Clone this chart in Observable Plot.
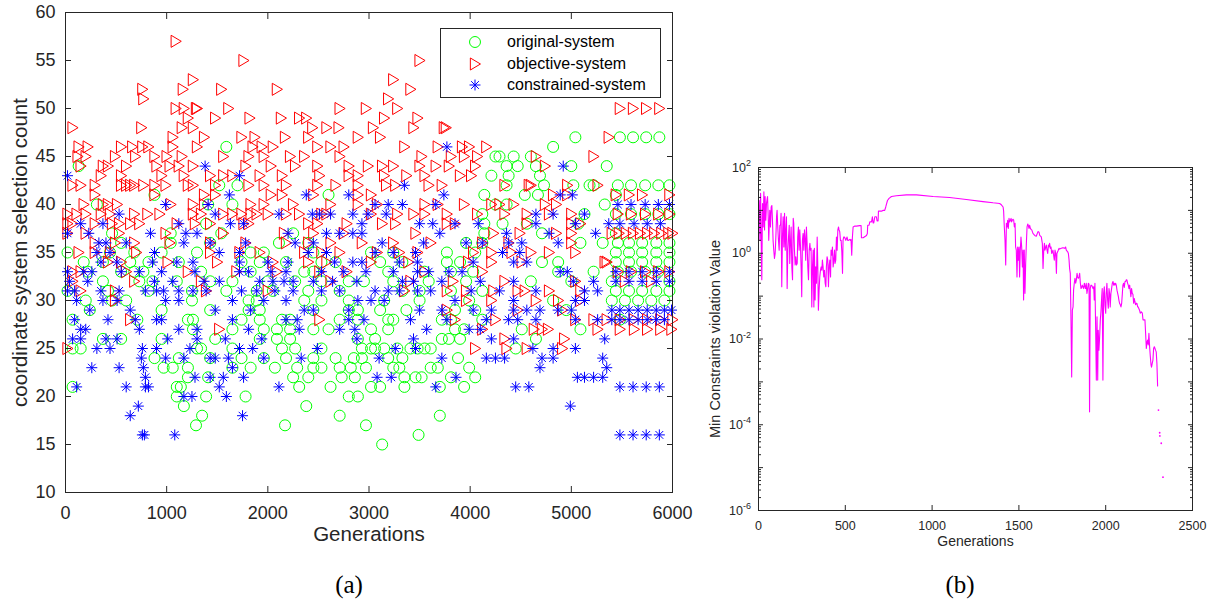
<!DOCTYPE html>
<html><head><meta charset="utf-8">
<script src="https://cdn.jsdelivr.net/npm/d3@7"></script>
<script src="https://cdn.jsdelivr.net/npm/@observablehq/plot@0.6"></script>
<style>
body{margin:0;background:#fff;width:1221px;height:605px;position:relative;overflow:hidden;font-family:"Liberation Sans",Arial,sans-serif}
#a{position:absolute;left:0;top:0}
#b{position:absolute;left:700px;top:140px}
.cap{position:absolute;font-family:"Liberation Serif",serif;font-size:25px;color:#000;transform:translate(-50%,-50%);white-space:nowrap}
#legend{position:absolute;left:440px;top:28px;width:219px;height:68px;border:1px solid #262626;background:#fff}
.lrow{position:absolute;left:0;height:20px;width:219px}
.lrow svg{position:absolute;left:24px;top:0}
.lrow span{position:absolute;left:66px;top:0;line-height:20px;font-size:16px;color:#000;white-space:nowrap}
</style></head><body>
<div id="a"></div><div id="b"></div>
<div id="legend"></div>
<div class="cap" style="left:349px;top:585px">(a)</div>
<div class="cap" style="left:960px;top:585px">(b)</div>
<script>
// ---------- Panel (a) data: [selection count, [generations...]] ----------
const originalRows = [
 [47,[5040,5480,5610,5740,5870]],
 [46,[1590,4820]],
 [45,[4250,4290,4430,4600]],
 [44,[130,4360,4470,4650,5000,5350]],
 [43,[4210,4380,4690]],
 [42,[1520,1700,4360,4730,5020,5180,5220,5460,5590,5730,5860,5970]],
 [41,[880,2600,4140,4540,4670,5440]],
 [40,[310,1410,1650,4250,4360,5330]],
 [39,[4120,5130,5440,5590,5730,5860,5970]],
 [38,[1390,4140,4320,4560,5070]],
 [37,[460,1040,1540,2250,4140,4710,5440]],
 [36,[550,1040,1430,2110,2400,3960,4120,5090,5310,5460,5570,5700,5840,5970]],
 [35,[20,440,680,950,1300,1830,1960,2450,3020,3240,3770,4050,5440,5570,5700,5840,5970]],
 [34,[180,370,640,820,1120,1740,1920,2180,2530,2670,3110,3330,3770,3900,4710,4870,5440,5570,5700,5840,5970]],
 [33,[220,550,680,770,1340,1830,2360,2450,3190,3550,3810,4030,4870,5220,5460,5590,5730,5860]],
 [32,[370,730,860,1100,1430,1650,2000,2270,2530,2800,2950,3240,3590,3960,4600,5000,5400,5970]],
 [31,[20,420,820,1250,1590,1890,2050,2400,2710,3330,3500,3810,4120,5440,5570,5700,5840,5970]],
 [30,[200,460,600,1250,1810,1890,2360,2530,2800,3150,3500,3990,4820,5400,5530,5660,5790,5920]],
 [29,[240,950,1430,1810,1920,2450,2800,2890,3110,3370,3850,4050,4950]],
 [28,[70,710,1210,1260,1740,1920,2140,2220,2710,2890,3190,3240,3720,3810,4120,5480]],
 [27,[1260,1650,1960,2090,2220,2450,2600,3020,3190,3850,3940,4510,5090]],
 [26,[370,550,950,1480,1920,2090,2220,2890,3060,3720,3790,3900,4650]],
 [25,[70,150,1300,1340,1650,2140,2270,2530,2930,3020,3060,3150,3280,3410,3480,3550,3610,4450]],
 [24,[880,1120,1430,1740,1960,2180,2450,2670,2850,2930,3190,3330,3880]],
 [23,[970,1060,1210,1650,1830,2070,2290,2450,2530,2710,2820,2970,3240,3300,3610,3680,3990]],
 [22,[1210,1410,2250,2400,2730,2860,3350,3460,3520,3810,4050]],
 [21,[70,1100,1140,2310,2620,3020,3110,3350,3700,3940]],
 [20,[1100,1390,1780,2800,2890]],
 [19,[1170,2380]],
 [18,[1350,2710,3700]],
 [17,[1290,2170,2970]],
 [16,[3490]],
 [15,[3130]]
];
const objectiveRows = [
 [57,[1090]],
 [55,[1760,3500]],
 [53,[1260,3240]],
 [52,[760,1160,1540,2090,3410]],
 [51,[770,3190]],
 [50,[1090,1170,1290,1300,1610,2710,2970,3280,5480,5610,5740,5870]],
 [49,[1210,1480,1820,2130,2310,2380,3150,3480]],
 [48,[70,750,1150,1260,2440,2580,2700,3040,3440,3740,3760]],
 [47,[1060,1370,1740,1870,2170,2400,2890,3110,5370]],
 [46,[130,220,550,660,760,820,1060,1300,1850,1940,2050,2490,2620,2750,3350,3680,3920,3990,4160]],
 [45,[120,200,490,690,880,1000,1150,1560,1810,1960,2220,2360,2710,3520,3810,3940,4070,4650,5220]],
 [44,[150,370,420,600,900,1030,1120,1260,1780,2030,2270,2490,2800,2990,3130,3240,3500,3660,3790,4050,4740]],
 [43,[350,550,950,1170,1430,1560,1650,1920,2140,2510,2800,2890,3150,3370,3550,3900,4010]],
 [42,[70,150,290,550,600,640,680,770,880,990,1210,1260,1480,1810,1960,2180,2490,2670,2890,3170,3260,3590,3720,4340,4580,4600,4960,5260]],
 [41,[290,880,1370,1480,2030,2140,2450,2890,3020,4820,4960,5440,5570,5700,5970]],
 [40,[180,370,420,510,1040,1260,1370,1830,1960,2250,2620,2890,3080,3550,3680,3940,4210,4290,4430,4740,4850]],
 [39,[20,110,200,350,440,680,810,930,1260,1340,1560,1650,1740,1830,1890,2000,2180,2310,2530,2580,3020,3280,3440,3550,3770,4070,4340,4560,4780,5000,5460,5590,5730,5860,5970]],
 [38,[20,70,290,460,530,640,730,1100,1280,1430,1760,1810,2400,2490,2780,3130,3260,3770,3850,4560,5000,5090]],
 [37,[20,200,530,990,1560,2160,2450,2750,3460,4230,4490,4850,5000,5400,5470,5540,5610,5680,5750,5820,5890,5960,6000]],
 [36,[290,490,680,1030,1430,1780,2180,2400,2620,2930,3240,3610,4120,4380,5000]],
 [35,[130,290,440,700,1430,1720,1920,2360,2530,2710,3080,3300,3480,4030,4210,4410,4600,4780,5040]],
 [34,[420,550,1010,1500,2050,2400,2580,3020,3390,3980,4210,4510,5330,5350]],
 [33,[70,150,600,1210,1690,2090,2510,2780,3550,4120,5460,5590,5730,5860,5970]],
 [32,[70,680,1340,2620,3410,3830,4340,5040,5530,5790]],
 [31,[150,490,1390,2000,3350,3770,3960,4230,4470,4540,4780,5090]],
 [30,[490,3960,4210,4650,4870,5090]],
 [29,[3770,4470,4910]],
 [28,[640,2510,3850,4250,5040,5220,5350,5480,5620,5750,5880,6000]],
 [27,[1520,4120,4630,4710,4770,5260,5480,5620,5750,5880,5990]],
 [26,[4340,4930]],
 [25,[20,4050,4360,4560,4910]]
];
const constrainedRows = [
 [46,[3770]],
 [44,[1380,4920]],
 [43,[20,1720]],
 [42,[3350]],
 [41,[1620,2380,2800,3740,4890,5010]],
 [40,[990,1410,3060,3190,3330,3660,5460,5590,5730,5860,5970]],
 [39,[530,1480,2110,2440,2510,2620,2840,2990,3170,4650,4820,5130]],
 [38,[150,370,1120,1630,1760,2930,3500,3630,3850,4080,4650,5040,5370,5480,5620,5750,5880]],
 [37,[20,230,840,1190,1300,2200,2580,2710,2840,2930,3700,4360,4780,5240]],
 [36,[330,400,600,1170,1430,1780,2270,2450,3130,3540,3960,4120,4380,4510,4870]],
 [35,[310,440,880,1520,1720,2400,2580,3060,3240,3460,4320,4490]],
 [34,[350,510,860,1100,1260,1720,2000,2200,2660,2840,2930,3300,3480,4030,4430,4560]],
 [33,[20,180,260,550,730,950,1280,1720,1810,2030,2180,2530,2750,2970,3240,3480,3590,3790,3920,4890,4960,5440,5570,5700,5840,5970]],
 [32,[40,220,880,1060,1370,1520,1920,2050,2160,2250,2450,2640,2880,3330,3440,3720,4100,4430,5020,5220,5440,5570,5700,5840,5970]],
 [31,[20,90,350,530,790,900,970,1120,1260,1390,1740,1890,2070,2250,2530,2710,3060,3190,3300,3480,3610,4010,4290,4650,5130,5260]],
 [30,[110,370,510,990,1120,1650,1960,2180,2890,3020,3150,3850,4430,5040,5130]],
 [29,[240,640,1480,1830,2360,2450,2800,3500,3720,4030,4210,4430,4560,4690,4870,5000,5400,5480,5570,5660,5750,5840,5920,5990]],
 [28,[90,420,690,900,950,1650,2180,2290,2800,2950,3410,3770,4160,4380,4470,4650,5040,5260,5400,5480,5570,5660,5750,5840,5920]],
 [27,[150,200,730,1120,1300,1810,2310,2710,2860,3570,3990,4100]],
 [26,[70,150,400,510,1010,1300,1580,1940,2880,3440,4210,4430,5330]],
 [25,[310,440,760,900,1230,1720,1850,2490,3260,3460,4620,4820,5040]],
 [24,[750,990,1170,1430,1480,1610,1960,2330,3100,3720,4160,4250,4340,4710,4820,5310]],
 [23,[260,530,770,1650,4690,5350]],
 [22,[790,1280,1430,1560,1760,3080,3220,3860,5060,5130,5220,5310]],
 [21,[110,600,790,820,1520,2110,3660,4450,4580,5480,5610,5740,5870]],
 [20,[1170,1250,1590]],
 [19,[720,4990]],
 [18,[640,1750]],
 [16,[760,780,1080,5480,5610,5740,5870]]
];
const seriesNames = ["original-system", "objective-system", "constrained-system"];
const xTicksA = [0, 1000, 2000, 3000, 4000, 5000, 6000];
const yTicksA = [10, 15, 20, 25, 30, 35, 40, 45, 50, 55, 60];

// ---------- Panel (b) data: [generation, min constraint violation] ----------
const violation = [
 [0,8.5],[4,17],[8,2.0],[12,25],[15,2.9],[19,0.24],[23,14.5],[27,4.1],[31,27],[35,3.5],[38,21],[42,5.9],[46,14.5],[52,21],[56,7.1],[59,2.0],[65,10],[69,4.1],[73,12],[77,13],[81,5.1],[84,2.0],[88,1.18],[92,0.76],[96,0.99],[100,2.4],[104,7.1],[107,10],[111,4.1],[115,2.0],[119,1.18],[123,4.5],[127,4.5],[130,8.5],[134,0.165],[138,2.4],[142,7.1],[146,1.4],[150,8.5],[154,1.18],[157,2.9],[161,7.1],[165,0.15],[169,1.18],[173,2.4],[177,4.5],[180,0.58],[184,1.7],[188,4.1],[192,0.48],[196,0.24],[200,6.5],[203,5.0],[207,1.18],[211,0.53],[215,0.83],[219,0.53],[223,0.58],[226,2.4],[230,4.1],[234,1.18],[238,3.5],[242,1.4],[246,0.40],[249,0.097],[253,2.0],[257,2.9],[261,1.18],[265,3.5],[269,2.0],[272,0.69],[276,4.1],[280,1.7],[284,0.48],[288,0.24],[292,1.18],[296,1.7],[299,1.18],[303,1.3],[307,0.056],[311,0.48],[315,1.18],[319,0.056],[322,1.3],[326,0.081],[330,0.48],[334,0.20],[338,2.4],[342,0.40],[345,0.047],[349,0.138],[353,0.28],[357,0.40],[361,0.48],[365,0.40],[368,0.69],[372,0.48],[376,0.28],[380,0.40],[384,0.20],[388,0.165],[391,0.48],[395,0.83],[399,0.69],[403,0.165],[407,0.53],[411,0.69],[415,0.28],[418,1.18],[422,0.90],[426,1.4],[430,0.48],[434,0.69],[438,1.18],[441,0.58],[445,0.69],[449,2.4],[453,1.18],[457,3.5],[461,4.1],[464,3.5],[468,3.2],[472,2.0],[476,2.0],[480,1.08],[484,0.34],[487,2.0],[491,2.4],[495,2.4],[499,2.2],[503,2.0],[507,2.2],[510,2.4],[514,2.0],[518,2.0],[526,2.1],[530,2.0],[533,2.1],[537,0.9],[541,2.4],[545,4.1],[555,4.3],[564,4.3],[583,4.4],[591,4.4],[593,2.3],[603,2.3],[622,2.6],[627,2.9],[629,4.5],[637,4.5],[641,5.4],[651,5.4],[656,7.1],[660,5.1],[664,5.1],[670,7.1],[679,7.1],[683,5.7],[689,5.7],[691,9.6],[708,9.6],[718,10],[727,10],[733,12],[743,17],[752,19],[766,21],[794,22],[852,23],[910,23],[1006,21],[1101,20],[1197,18],[1293,16],[1351,15],[1389,14.5],[1399,13.5],[1409,12],[1412,9.6],[1416,4.1],[1420,2.0],[1424,0.53],[1428,5.0],[1432,4.1],[1435,5.9],[1439,3.8],[1443,6.5],[1447,5.4],[1451,5.9],[1455,6.5],[1458,5.4],[1462,5.9],[1466,6.2],[1470,5.9],[1474,4.1],[1478,5.0],[1481,1.4],[1485,1.18],[1489,0.28],[1493,1.4],[1497,0.69],[1501,1.4],[1504,0.28],[1508,1.18],[1512,2.4],[1516,1.4],[1520,0.48],[1524,1.18],[1527,0.081],[1531,1.18],[1535,0.116],[1539,0.58],[1543,1.7],[1547,4.1],[1551,4.8],[1554,4.5],[1558,3.8],[1562,4.5],[1566,3.8],[1570,3.6],[1574,3.5],[1581,2.9],[1591,2.6],[1600,2.5],[1610,3.2],[1616,3.1],[1620,2.6],[1629,2.4],[1635,1.7],[1639,0.44],[1643,1.18],[1647,1.7],[1650,1.18],[1658,1.55],[1662,1.18],[1666,0.99],[1670,1.55],[1673,1.4],[1677,1.7],[1681,1.3],[1685,1.4],[1689,0.99],[1696,1.18],[1700,0.90],[1704,0.69],[1708,1.18],[1712,0.99],[1716,0.34],[1719,0.99],[1723,1.08],[1727,1.18],[1731,1.3],[1735,1.25],[1744,1.3],[1754,1.35],[1764,1.3],[1769,1.4],[1773,1.18],[1781,1.08],[1785,0.99],[1789,0.69],[1792,0.44],[1796,0.34],[1800,0.028],[1804,0.0013],[1808,0.047],[1812,0.056],[1815,0.138],[1819,0.20],[1823,0.26],[1827,0.20],[1831,0.24],[1835,0.34],[1838,0.28],[1842,0.26],[1846,0.28],[1850,0.34],[1854,0.20],[1858,0.15],[1862,0.16],[1865,0.18],[1869,0.165],[1873,0.15],[1877,0.20],[1881,0.165],[1884,0.15],[1888,0.20],[1892,0.116],[1896,0.15],[1900,0.20],[1904,0.19],[1907,0.0002],[1911,0.15],[1915,0.18],[1919,0.18],[1923,0.165],[1927,0.15],[1931,0.165],[1934,0.081],[1938,0.20],[1942,0.019],[1946,0.0011],[1950,0.033],[1954,0.0011],[1957,0.016],[1961,0.0055],[1965,0.011],[1969,0.028],[1973,0.045],[1977,0.097],[1980,0.15],[1984,0.0011],[1988,0.116],[1992,0.165],[1996,0.06],[2000,0.04],[2003,0.116],[2007,0.20],[2011,0.081],[2015,0.052],[2019,0.15],[2023,0.11],[2026,0.056],[2030,0.116],[2034,0.15],[2038,0.20],[2042,0.22],[2046,0.18],[2049,0.20],[2053,0.18],[2057,0.20],[2061,0.18],[2065,0.138],[2069,0.116],[2073,0.097],[2076,0.081],[2080,0.068],[2084,0.063],[2088,0.056],[2092,0.068],[2096,0.116],[2099,0.18],[2103,0.20],[2107,0.16],[2111,0.22],[2115,0.22],[2119,0.24],[2122,0.24],[2126,0.20],[2130,0.18],[2134,0.15],[2138,0.18],[2142,0.13],[2145,0.097],[2149,0.15],[2153,0.116],[2157,0.11],[2161,0.068],[2165,0.088],[2168,0.075],[2172,0.063],[2176,0.068],[2180,0.068],[2184,0.056],[2187,0.056],[2195,0.047],[2199,0.040],[2205,0.043],[2211,0.040],[2215,0.028],[2222,0.028],[2226,0.028],[2230,0.0135],[2234,0.006],[2238,0.0085],[2241,0.0094],[2245,0.0073],[2249,0.0135],[2253,0.0066],[2257,0.0039],[2261,0.0025],[2264,0.0022],[2268,0.0027],[2272,0.0032],[2276,0.006],[2280,0.0066],[2284,0.006],[2287,0.0055],[2291,0.005],[2295,0.0027],[2299,0.0008]
];
const violationSpecks = [[2304,2.2e-4],[2311,6.5e-5],[2312,5.5e-5],[2320,3.7e-5],[2330,6e-6]];
const xTicksB = [0, 500, 1000, 1500, 2000, 2500];
const decadeExponents = [-6, -5, -4, -3, -2, -1, 0, 1, 2];
const labelledExponents = [-6, -4, -2, 0, 2];

// ---------- helpers ----------
const flatten = rows => rows.flatMap(([count, gens]) => gens.map(gen => ({gen, count})));
const asterisk8 = {draw(ctx, size) {
  const r = Math.sqrt(size / Math.PI), d = r * 0.7071;
  ctx.moveTo(-r, 0); ctx.lineTo(r, 0); ctx.moveTo(0, -r); ctx.lineTo(0, r);
  ctx.moveTo(-d, -d); ctx.lineTo(d, d); ctx.moveTo(-d, d); ctx.lineTo(d, -d);
}};
const triangleRight = {draw(ctx, size) {
  const r = Math.sqrt(size / Math.PI);
  ctx.moveTo(-0.85 * r, -1.1 * r); ctx.lineTo(1.0 * r, 0); ctx.lineTo(-0.85 * r, 1.1 * r); ctx.closePath();
}};
const ink = "#262626";
const font = "Liberation Sans, Arial, Helvetica, sans-serif";
const plain = d => String(d);

// ---------- Panel (a) ----------
const plotA = Plot.plot({
  width: 700, height: 560,
  marginTop: 12, marginLeft: 65, marginRight: 28, marginBottom: 68,
  style: {fontFamily: font, fontSize: "18px", color: ink, background: "transparent"},
  x: {domain: [0, 6000]},
  y: {domain: [10, 60]},
  marks: [
    Plot.dot(flatten(originalRows), {x: "gen", y: "count", symbol: "circle", r: 5.5, stroke: "#00ff00", fill: "none", strokeWidth: 1}),
    Plot.dot(flatten(objectiveRows), {x: "gen", y: "count", symbol: triangleRight, r: 5.5, stroke: "#ff0000", fill: "none", strokeWidth: 1}),
    Plot.dot(flatten(constrainedRows), {x: "gen", y: "count", symbol: asterisk8, r: 5.5, stroke: "#0000ff", fill: "none", strokeWidth: 1}),
    Plot.frame({stroke: ink, strokeWidth: 1}),
    Plot.axisX(xTicksA, {anchor: "bottom", tickSize: -6, tickPadding: 20, label: null, tickFormat: plain, fontSize: 18, stroke: ink}),
    Plot.axisX(xTicksA, {anchor: "top", tickSize: -6, tickFormat: () => "", label: null, stroke: ink}),
    Plot.axisY(yTicksA, {anchor: "left", tickSize: -6, tickPadding: 16, label: null, tickFormat: plain, fontSize: 18, stroke: ink}),
    Plot.axisY(yTicksA, {anchor: "right", tickSize: -6, tickFormat: () => "", label: null, stroke: ink}),
    Plot.text(["Generations"], {text: d => d, frameAnchor: "bottom", dy: 48, textAnchor: "middle", fontSize: 20.5, fill: ink}),
    Plot.text(["coordinate system selection count"], {text: d => d, frameAnchor: "left", dx: -45, rotate: -90, textAnchor: "middle", lineAnchor: "middle", fontSize: 20.5, fill: ink})
  ]
});
document.getElementById("a").appendChild(plotA);

// legend
const legendSymbols = [
  {type: d3.symbolCircle, color: "#00ff00"},
  {type: triangleRight, color: "#ff0000"},
  {type: asterisk8, color: "#0000ff"}
];
const legend = document.getElementById("legend");
seriesNames.forEach((name, i) => {
  const row = document.createElement("div");
  row.className = "lrow";
  row.style.top = (3 + i * 21.5) + "px";
  const path = d3.symbol().type(legendSymbols[i].type).size(Math.PI * 30)();
  row.innerHTML = `<svg width="20" height="20" viewBox="-10 -10 20 20"><path d="${path}" fill="none" stroke="${legendSymbols[i].color}" stroke-width="1"/></svg><span>${name}</span>`;
  legend.appendChild(row);
});

// ---------- Panel (b) ----------
const majorB = decadeExponents.map(e => Math.pow(10, e));
const minorB = decadeExponents.slice(0, -1).flatMap(e => [2,3,4,5,6,7,8,9].map(m => m * Math.pow(10, e)));
const plotB = Plot.plot({
  width: 521, height: 430,
  marginTop: 27, marginLeft: 58, marginRight: 29, marginBottom: 60,
  style: {fontFamily: font, fontSize: "12.5px", color: ink, background: "transparent"},
  x: {domain: [0, 2500]},
  y: {type: "log", domain: [1e-6, 1e2]},
  marks: [
    Plot.line(violation, {x: d => d[0], y: d => d[1], stroke: "#ff00ff", strokeWidth: 1.1}),
    Plot.dot(violationSpecks, {x: d => d[0], y: d => d[1], r: 0.9, fill: "#ff00ff", stroke: null}),
    Plot.frame({stroke: ink, strokeWidth: 1}),
    Plot.axisX(xTicksB, {anchor: "bottom", tickSize: -5, tickPadding: 16, label: null, tickFormat: plain, fontSize: 12.5, stroke: ink}),
    Plot.axisX(xTicksB, {anchor: "top", tickSize: -5, tickFormat: () => "", label: null, stroke: ink}),
    Plot.axisY(majorB, {anchor: "left", tickSize: -5, tickPadding: 12.5, label: null, fontSize: 12.5, stroke: ink,
      tickFormat: d => { const e = Math.round(Math.log10(d)); return labelledExponents.includes(e) ? "10^" + e : ""; }}),
    Plot.axisY(minorB, {anchor: "left", tickSize: -3, tickFormat: () => "", label: null, stroke: ink}),
    Plot.axisY(majorB, {anchor: "right", tickSize: -5, tickFormat: () => "", label: null, stroke: ink}),
    Plot.axisY(minorB, {anchor: "right", tickSize: -3, tickFormat: () => "", label: null, stroke: ink}),
    Plot.text(["Generations"], {text: d => d, frameAnchor: "bottom", dy: 35, textAnchor: "middle", fontSize: 14, fill: ink}),
    Plot.text(["Min Constraints violation Value"], {text: d => d, frameAnchor: "left", dx: -43, rotate: -90, textAnchor: "middle", lineAnchor: "middle", fontSize: 14.5, fill: ink})
  ]
});
d3.select(plotB).selectAll('g[aria-label="y-axis tick label"] text').each(function() {
  const t = this.textContent;
  if (!t.includes("^")) return;
  const [base, exp] = t.split("^");
  this.textContent = "";
  d3.select(this).append("tspan").text(base);
  d3.select(this).append("tspan").attr("dy", "-0.6em").attr("font-size", "0.72em").text(exp);
});
document.getElementById("b").appendChild(plotB);
</script>
</body></html>
